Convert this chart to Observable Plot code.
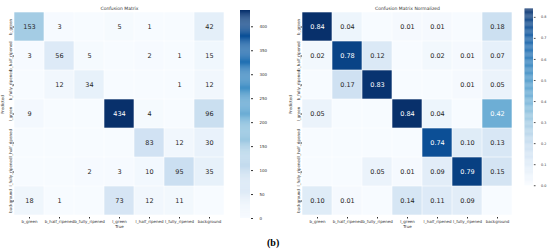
<!DOCTYPE html>
<html><head><meta charset="utf-8">
<script src="https://cdn.jsdelivr.net/npm/d3@7"></script>
<script src="https://cdn.jsdelivr.net/npm/@observablehq/plot@0.6"></script>
<style>
html,body{margin:0;padding:0;background:#fff;}
#wrap{position:relative;width:550px;height:251px;overflow:hidden;font-family:"DejaVu Sans",sans-serif;}
.p{position:absolute;top:0;}
#cap{position:absolute;left:267px;top:237px;font:bold 10px "Liberation Serif",serif;color:#000;}
</style></head>
<body><div id="wrap"><div class="p" id="h1" style="left:0"></div><div class="p" id="c1" style="left:230px"></div><div class="p" id="h2" style="left:288px"></div><div class="p" id="c2" style="left:516px"></div><div id="cap">(b)</div></div>
<script>
const labels = ["b_green","b_half_ripened","b_fully_ripened","l_green","l_half_ripened","l_fully_ripened","background"];
// rows = predicted, columns = true
const counts = [
  [153, 3, 0, 5, 1, 0, 42],
  [3, 56, 5, 0, 2, 1, 15],
  [0, 12, 34, 0, 0, 1, 12],
  [9, 0, 0, 434, 4, 0, 96],
  [0, 0, 0, 0, 83, 12, 30],
  [0, 0, 2, 3, 10, 95, 35],
  [18, 1, 0, 73, 12, 11, 0]
];
const normalized = [
  [0.84, 0.04, 0, 0.01, 0.01, 0, 0.18],
  [0.02, 0.78, 0.12, 0, 0.02, 0.01, 0.07],
  [0, 0.17, 0.83, 0, 0, 0.01, 0.05],
  [0.05, 0, 0, 0.84, 0.04, 0, 0.42],
  [0, 0, 0, 0, 0.74, 0.10, 0.13],
  [0, 0, 0.05, 0.01, 0.09, 0.79, 0.15],
  [0.10, 0.01, 0, 0.14, 0.11, 0.09, 0]
];
const countTicks = [0, 50, 100, 150, 200, 250, 300, 350, 400];
const normTicks = [0, 0.1, 0.2, 0.3, 0.4, 0.5, 0.6, 0.7, 0.8];
const titles = ["Confusion Matrix", "Confusion Matrix Normalized"];

function heat(matrix, max, fmt, title) {
  const data = [];
  matrix.forEach((row, i) => row.forEach((v, j) => data.push({pred: labels[i], truth: labels[j], v})));
  const dark = data.filter(d => d.v > 0 && d.v / max > 0.45);
  const light = data.filter(d => d.v > 0 && d.v / max <= 0.45);
  return Plot.plot({
    width: 232, height: 236,
    marginLeft: 14, marginRight: 8, marginTop: 10, marginBottom: 19,
    style: {fontFamily: "DejaVu Sans", fontSize: "4px", background: "transparent", color: "#333", overflow: "visible"},
    x: {domain: labels, label: null, tickSize: 1.5, tickPadding: 1.5, padding: 0},
    y: {domain: labels, label: null, tickSize: 1.5, tickPadding: 1.5, tickRotate: -90, padding: 0},
    color: {type: "linear", scheme: "blues", domain: [0, max]},
    marks: [
      Plot.cell(data, {x: "truth", y: "pred", fill: "v", inset: 0.3}),
      Plot.text(light, {x: "truth", y: "pred", text: d => fmt(d.v), fill: "#262626", fontSize: 6.5}),
      Plot.text(dark, {x: "truth", y: "pred", text: d => fmt(d.v), fill: "white", fontSize: 6.5}),
      Plot.text([title], {frameAnchor: "top", dy: -4, fontSize: 4.5, fill: "#333"}),
      Plot.text(["True"], {frameAnchor: "bottom", dy: 10.5, fontSize: 4, fill: "#333"}),
      Plot.text(["Predicted"], {frameAnchor: "left", dx: -11.5, rotate: -90, fontSize: 4, fill: "#333"})
    ]
  });
}

function cbar(max, ticks, fmt) {
  const n = 200;
  const strips = d3.range(n).map(i => ({y1: i * max / n, y2: (i + 1) * max / n}));
  return Plot.plot({
    width: 40, height: 236,
    marginLeft: 10, marginRight: 20, marginTop: 10, marginBottom: 18,
    style: {fontFamily: "DejaVu Sans", fontSize: "4px", background: "transparent", color: "#333"},
    x: {axis: null, domain: [0, 1]},
    y: {domain: [0, max], axis: "right", ticks: ticks, tickFormat: fmt, tickSize: 2, label: null},
    color: {type: "linear", scheme: "blues", domain: [0, max]},
    marks: [
      Plot.rect(strips, {x1: 0, x2: 1, y1: "y1", y2: "y2", fill: d => (d.y1 + d.y2) / 2})
    ]
  });
}

const maxCount = d3.max(counts.flat());
const maxNorm = d3.max(normalized.flat());
document.getElementById("h1").append(heat(counts, maxCount, d3.format("d"), titles[0]));
document.getElementById("c1").append(cbar(maxCount, countTicks, d3.format("d")));
document.getElementById("h2").append(heat(normalized, maxNorm, d3.format(".2f"), titles[1]));
document.getElementById("c2").append(cbar(maxNorm, normTicks, d3.format(".1f")));
</script></body></html>
